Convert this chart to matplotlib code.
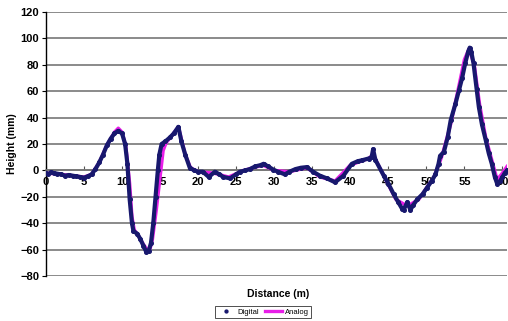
import numpy as np
import matplotlib.pyplot as plt

plt.rcParams['font.family'] = ['Liberation Sans', 'DejaVu Sans']

# Digital profile (distance m, height mm)
dig_x = [0.0, 0.3, 0.6, 1.0, 1.5, 2.0, 2.5, 3.0, 3.5, 4.0, 4.5, 5.0, 5.5, 6.0,
         6.5, 7.0, 7.5, 8.0, 8.5, 9.0, 9.5, 10.0, 10.4, 10.7, 11.0, 11.3, 11.5,
         12.0, 12.4, 12.8, 13.2, 13.5, 13.8, 14.1, 14.4, 14.7, 14.9, 15.2, 15.7,
         16.3, 16.8, 17.4, 17.8, 18.3, 18.9, 19.5, 20.0, 20.6, 21.4, 22.2, 22.8,
         23.3, 24.2, 25.0, 25.5, 26.2, 26.8, 27.5, 28.2, 28.6, 29.2, 29.9, 30.5,
         31.4, 32.0, 32.8, 33.5, 34.3, 35.1, 36.0, 36.9, 38.0, 39.1, 40.2, 41.0,
         41.5, 42.4, 42.8, 43.0, 43.3, 44.4, 45.0, 45.7, 46.3, 46.8, 47.0, 47.5,
         47.9, 48.3, 48.8, 49.5, 50.1, 50.7, 51.2, 51.6, 51.8, 52.3, 52.8, 53.2,
         53.8, 54.3, 54.7, 55.1, 55.5, 55.7, 55.9, 56.2, 56.6, 56.9, 57.3, 57.8,
         58.2, 58.6, 59.0, 59.3, 59.7, 60.0, 60.3, 60.6]
dig_y = [-2, -3, -1.5, -2, -2.5, -3, -4, -3.5, -4, -4.5, -5, -5.5, -4.5, -3,
         1, 6, 12, 19, 24, 28, 30, 28, 20, 5, -22, -40, -46,
         -48, -52, -57, -62, -61, -55, -40, -20, 0, 12, 20, 22,
         25, 28, 33, 22, 12, 2, 0, -1, -1, -5, -1, -3,
         -5, -6, -3, -1, 0, 1, 3, 4, 5, 3, 0.5, -1,
         -3, -1, 1, 2, 2.5, -1, -4, -6, -9, -4, 5, 7,
         7.6, 9, 10, 16, 8, -4, -10, -18, -24, -29, -30, -24,
         -30, -26, -22, -18, -13, -8, -3, 5, 11, 14, 25, 38,
         50, 61, 70, 81, 90, 93, 90, 81, 62, 48, 35, 23,
         13, 5, -5, -10, -8, -5, -2, 0]

# Analog profile
ana_x = [0, 2, 5, 6, 7, 8, 9, 9.5, 10, 10.5, 11.0, 11.3, 11.6, 12.2, 12.8, 13.3,
         13.7, 14.0, 14.5, 15.0, 15.4, 15.8, 16.5, 17.4, 18.3, 19, 20, 22, 24,
         26, 28.5, 30, 32, 34.3, 36, 38, 40, 42.4, 43.0, 44.4, 46, 47.5, 49,
         51, 52, 53.2, 54.2, 55.0, 55.6, 56.3, 57.0, 57.8, 58.6, 59.3, 60.0, 60.6]
ana_y = [-2, -3, -5, -3, 6, 19, 29, 32, 29, 18, -10, -35, -45, -50, -56, -60,
         -59, -52, -30, -5, 15, 21, 26, 33, 12, 2, -1, -2, -5,
         0, 4, 0, -1, 2, -5, -8, 4, 9, 12, -4, -22, -27, -22,
         -5, 10, 35, 62, 84, 92, 80, 50, 25, 8, -7, -2, 3]

y_ticks = [-80, -60, -40, -20, 0, 20, 40, 60, 80, 100, 120]
x_ticks = [0, 5, 10, 15, 20, 25, 30, 35, 40, 45, 50, 55, 60]

fig = plt.figure(figsize=(5.08, 3.21), dpi=100)
ax = fig.add_axes([46 / 508, 1 - 276 / 321, (507 - 46) / 508, 264 / 321])

ax.plot(ana_x, ana_y, color='#e81ee8', linewidth=2.4, label='Analog', zorder=3)
ax.plot(dig_x, dig_y, color='#18186e', linewidth=3.0, zorder=4)
ax.plot(dig_x, dig_y, color='#18186e', linestyle='none', marker='o',
        markersize=2.6, label='Digital', zorder=5)

ax.set_xlim(0, 60.6)
ax.set_ylim(-80, 120)
ax.set_yticks(y_ticks)
ax.set_xticks(x_ticks)
ax.yaxis.grid(True, color='#777777', linewidth=1.2)
ax.set_axisbelow(True)

for s in ['top', 'right']:
    ax.spines[s].set_visible(False)
ax.spines['left'].set_color('black')
ax.spines['left'].set_linewidth(1.0)
ax.spines['bottom'].set_position(('data', 0))
ax.spines['bottom'].set_color('#777777')
ax.spines['bottom'].set_linewidth(1.2)

ax.tick_params(axis='x', direction='in', length=3, width=0.8, color='#555555',
               pad=5, labelsize=8)
ax.tick_params(axis='y', direction='out', length=3, width=0.8, pad=2,
               labelsize=8)
for label in ax.get_xticklabels() + ax.get_yticklabels():
    label.set_fontweight('bold')

fig.text(12 / 508, 1 - 144 / 321, 'Height (mm)', rotation=90, fontsize=7.5,
         fontweight='bold', ha='center', va='center')
fig.text(278 / 508, 1 - 294 / 321, 'Distance (m)', fontsize=7.5,
         fontweight='bold', ha='center', va='center')

h, l = ax.get_legend_handles_labels()
leg = fig.legend([h[1], h[0]], [l[1], l[0]], loc='center',
                 bbox_to_anchor=(263 / 508, 1 - 312 / 321), ncol=2,
                 fontsize=5.5, frameon=True, fancybox=False, edgecolor='black',
                 handlelength=2.2, handletextpad=0.4, columnspacing=0.8,
                 borderpad=0.25, markerscale=0.8)
leg.get_frame().set_linewidth(0.6)

fig.savefig('out.png', dpi=100)
